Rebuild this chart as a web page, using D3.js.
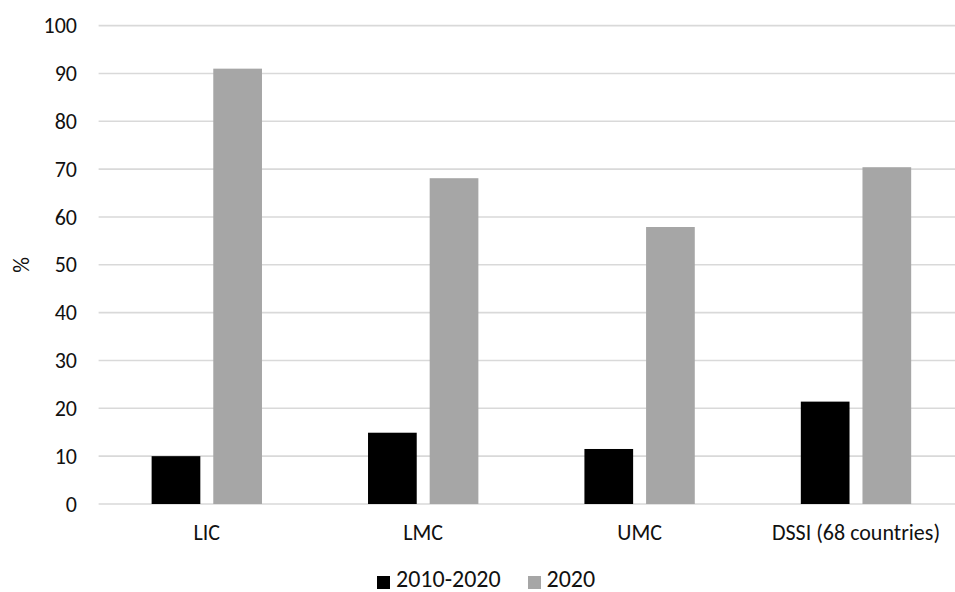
<!DOCTYPE html>
<html>
<head>
<meta charset="utf-8">
<script src="https://cdn.jsdelivr.net/npm/d3@7"></script>
<style>
  html, body { margin: 0; padding: 0; background: #fff; }
  svg { display: block; }
  text { font-family: Carlito, Lato, "Open Sans", sans-serif; fill: #111; }
</style>
</head>
<body>
<svg id="chart" width="955" height="592"></svg>
<script>
// Income groups shown along the x axis
const categories = ["LIC", "LMC", "UMC", "DSSI (68 countries)"];
// Series names (legend order)
const seriesNames = ["2010-2020", "2020"];
// Values in percent, one per category
const values2010_2020 = [10.0, 14.9, 11.5, 21.4];
const values2020 = [91.0, 68.1, 57.9, 70.4];
// Y axis ticks
const yTicks = [0, 10, 20, 30, 40, 50, 60, 70, 80, 90, 100];
const yLabel = "%";

const colors = { "2010-2020": "#000000", "2020": "#a6a6a6" };
const labelSize = 22;

const svg = d3.select("#chart");
const W = 955;

const x0 = d3.scaleBand().domain(categories).range([98.6, 964.2]).paddingInner(0).paddingOuter(0);
const x1 = d3.scaleBand().domain(seriesNames).range([0, x0.bandwidth()])
  .paddingInner(0.21).paddingOuter(0.86);
const y = d3.scaleLinear().domain([0, 100]).range([504, 25.6]);

// Horizontal gridlines
svg.append("g").selectAll("line").data(yTicks).join("line")
  .attr("x1", 98.6).attr("x2", W)
  .attr("y1", d => y(d)).attr("y2", d => y(d))
  .attr("stroke", "#d9d9d9").attr("stroke-width", 1.6);

// Y axis tick labels
const yAxis = d3.axisLeft(y).tickValues(yTicks).tickSize(0).tickPadding(0);
const gy = svg.append("g").attr("transform", "translate(77,0)").call(yAxis);
gy.select(".domain").remove();
gy.selectAll("text").attr("font-size", labelSize).attr("font-family", "Carlito, Lato, sans-serif").attr("fill", "#111");

// Bars
const rows = categories.map((c, i) => ({ cat: c, vals: [
  { s: seriesNames[0], v: values2010_2020[i] },
  { s: seriesNames[1], v: values2020[i] }
]}));

const groups = svg.append("g").selectAll("g").data(rows).join("g")
  .attr("transform", d => `translate(${x0(d.cat)},0)`);
groups.selectAll("rect").data(d => d.vals).join("rect")
  .attr("x", d => x1(d.s))
  .attr("width", x1.bandwidth())
  .attr("y", d => y(d.v))
  .attr("height", d => y(0) - y(d.v))
  .attr("fill", d => colors[d.s]);

// Category labels
const xAxis = d3.axisBottom(x0).tickSize(0).tickPadding(0);
const gx = svg.append("g").attr("transform", "translate(0,540)").call(xAxis);
gx.select(".domain").remove();
gx.selectAll("text").attr("font-size", labelSize).attr("font-family", "Carlito, Lato, sans-serif").attr("fill", "#111")
  .attr("dy", 0).attr("y", 0);

// Y axis title
svg.append("text")
  .attr("transform", "translate(29,265) rotate(-90)")
  .attr("text-anchor", "middle")
  .attr("font-size", labelSize)
  .text(yLabel);

// Legend
const legendItems = [
  { s: seriesNames[0], sx: 377, tx: 396 },
  { s: seriesNames[1], sx: 528, tx: 546.5 }
];
const lg = svg.append("g");
lg.selectAll("rect").data(legendItems).join("rect")
  .attr("x", d => d.sx).attr("y", 576).attr("width", 13).attr("height", 13)
  .attr("fill", d => colors[d.s]);
lg.selectAll("text").data(legendItems).join("text")
  .attr("x", d => d.tx).attr("y", 587)
  .attr("font-size", 24)
  .text(d => d.s);
</script>
</body>
</html>
